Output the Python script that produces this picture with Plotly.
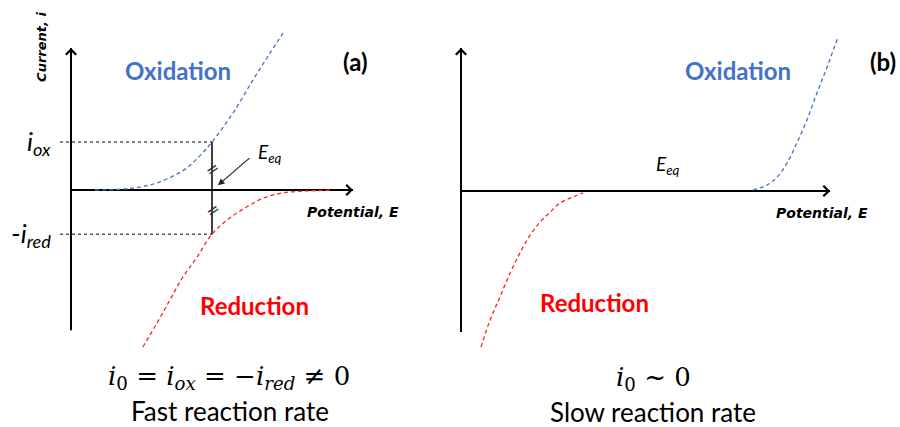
import plotly.graph_objects as go

# ---------------- data (E in arbitrary potential units, i in units of i_ox) ----------------
# Panel (a): fast reaction (large exchange current)
E_ox_a = [0.85, 1.6, 2.2, 2.7, 3.16, 3.65, 4.11, 4.55, 5.0, 5.74, 6.45, 7.0, 7.52]
i_ox_a = [0.0, 0.01, 0.04, 0.09, 0.17, 0.3, 0.46, 0.7, 1.0, 1.6, 2.29, 2.8, 3.27]
E_red_a = [2.55, 3.05, 3.51, 3.97, 4.47, 5.0, 5.64, 6.24, 6.81, 7.52, 8.37, 9.18]
i_red_a = [-3.27, -2.77, -2.29, -1.81, -1.40, -0.92, -0.58, -0.35, -0.17, -0.06, -0.02, -0.005]
E_eq_a = 5.0
i_ox_level = 1.0
i_red_level = -0.92

# Panel (b): slow reaction (exchange current ~ 0)
E_red_b = [0.71, 1.03, 1.38, 1.74, 2.09, 2.45, 2.80, 3.16, 3.51, 3.97, 4.33]
i_red_b = [-3.25, -2.69, -2.21, -1.71, -1.29, -0.92, -0.65, -0.44, -0.25, -0.125, -0.04]
E_ox_b = [10.35, 10.85, 11.21, 11.56, 11.91, 12.27, 12.62, 12.98, 13.37]
i_ox_b = [0.02, 0.125, 0.29, 0.58, 1.0, 1.48, 2.04, 2.58, 3.21]

# axis extents (arrowed axes)
E_axis_end = [10.0, 13.09]
i_axis_top = [2.96, 2.98]
i_axis_bottom = [-2.92, -2.94]
E_guide_start = -0.39

BLUE = "#4472C4"
RED = "#FF2020"
TXT = "Lato"
SMALL = "DejaVu Sans"
MATH = "DejaVu Serif"

fig = go.Figure()

def line(x, y, xa, ya, color="black", width=2, dash="solid", shape="linear"):
    fig.add_trace(go.Scatter(x=x, y=y, xaxis=xa, yaxis=ya, mode="lines",
                             line=dict(color=color, width=width, dash=dash, shape=shape),
                             hoverinfo="skip", showlegend=False))

for k, (xa, ya) in enumerate([("x", "y"), ("x2", "y2")]):
    line([0, E_axis_end[k]], [0, 0], xa, ya)
    line([0, 0], [i_axis_bottom[k], i_axis_top[k]], xa, ya)

# panel (a)
line([E_guide_start, E_eq_a], [i_ox_level, i_ox_level], "x", "y", width=1, dash="3px,3px")
line([E_guide_start, E_eq_a], [i_red_level, i_red_level], "x", "y", width=1, dash="3px,3px")
line([E_eq_a, E_eq_a], [i_red_level, i_ox_level], "x", "y", width=1.5)
line(E_ox_a, i_ox_a, "x", "y", BLUE, 1.3, "4px,3px", "spline")
line(E_red_a, i_red_a, "x", "y", RED, 1.3, "4px,3px", "spline")
# panel (b)
line(E_red_b, i_red_b, "x2", "y2", RED, 1.3, "4px,3px", "spline")
line(E_ox_b, i_ox_b, "x2", "y2", BLUE, 1.3, "4px,3px", "spline")

ann = []
def text(x, y, t, xr, yr, size, color="black", family=TXT, angle=0, xanchor="center", yanchor="middle"):
    ann.append(dict(x=x, y=y, xref=xr, yref=yr, text=t, showarrow=False, textangle=angle,
                    xanchor=xanchor, yanchor=yanchor, font=dict(family=family, size=size, color=color)))

# arrowheads on axes
for k, (xr, yr) in enumerate([("x", "y"), ("x2", "y2")]):
    ann.append(dict(x=E_axis_end[k], y=0, xref=xr, yref=yr, ax=-12, ay=0, text="", showarrow=True,
                    arrowhead=4, arrowwidth=2, arrowsize=1, arrowcolor="black", standoff=0))
    ann.append(dict(x=0, y=i_axis_top[k], xref=xr, yref=yr, ax=0, ay=12, text="", showarrow=True,
                    arrowhead=4, arrowwidth=2, arrowsize=1, arrowcolor="black", standoff=0))

# E_eq arrow (a)
ann.append(dict(x=5.21, y=0.10, xref="x", yref="y", ax=6.38, ay=0.69, axref="x", ayref="y", text="",
                showarrow=True, arrowhead=2, arrowwidth=1.2, arrowsize=1.1, arrowcolor="#222", standoff=0))
# break marks on the E_eq line
for yy in (0.42, -0.42):
    text(E_eq_a, yy, "=", "x", "y", 16, color="#333", family="DejaVu Sans", angle=-35)

# panel (a) labels
text(3.79, 2.5, "<b>Oxidation</b>", "x", "y", 24, BLUE)
text(6.52, -2.40, "<b>Reduction</b>", "x", "y", 24, "#FF0000")
text(10.1, 2.67, "<b>(a)</b>", "x", "y", 24)
text(-1.03, 2.98, "<b><i>Current, i</i></b>", "x", "y", 13, family=SMALL, angle=-90)
text(10.0, -0.46, "<b><i>Potential, E</i></b>", "x", "y", 14, family=SMALL)
text(-0.65, 1.0, "<i>i</i><sub><i>ox</i></sub>", "x", "y", 26, xanchor="right")
text(-0.65, -0.92, "-<i>i</i><sub><i>red</i></sub>", "x", "y", 26, xanchor="right")
text(7.06, 0.77, "<i>E</i><sub><i>eq</i></sub>", "x", "y", 19)
text(5.6, -3.9, "<i>i</i><sub>0</sub> = <i>i</i><sub><i>ox</i></sub> = \u2212<i>i</i><sub><i>red</i></sub> \u2260 0",
     "x", "y", 26, family=MATH)
text(5.64, -4.6, "Fast reaction rate", "x", "y", 26)

# panel (b) labels
text(9.82, 2.52, "<b>Oxidation</b>", "x2", "y2", 24, BLUE)
text(4.75, -2.33, "<b>Reduction</b>", "x2", "y2", 24, "#FF0000")
text(14.96, 2.69, "<b>(b)</b>", "x2", "y2", 24)
text(-0.85, 3.0, "<b><i>Current, i</i></b>", "x2", "y2", 13, family=SMALL, angle=-90)
text(12.8, -0.46, "<b><i>Potential, E</i></b>", "x2", "y2", 14, family=SMALL)
text(7.34, 0.54, "<i>E</i><sub><i>eq</i></sub>", "x2", "y2", 19)
text(6.81, -3.9, "<i>i</i><sub>0</sub> ~ 0", "x2", "y2", 26, family=MATH)
text(6.81, -4.6, "Slow reaction rate", "x2", "y2", 26)

ax_common = dict(visible=False, showgrid=False, zeroline=False, fixedrange=True)
fig.update_layout(
    width=900, height=427, margin=dict(l=0, r=0, t=0, b=0),
    paper_bgcolor="white", plot_bgcolor="rgba(0,0,0,0)",
    xaxis=dict(domain=[0, 440 / 900], range=[-71 / 28.2, 369 / 28.2], **ax_common),
    yaxis=dict(domain=[0, 1], range=[-237 / 48, 190 / 48], **ax_common),
    xaxis2=dict(domain=[440 / 900, 1], range=[-21 / 28.2, 439 / 28.2], anchor="y2", **ax_common),
    yaxis2=dict(domain=[0, 1], range=[-236 / 48, 191 / 48], anchor="x2", **ax_common),
    annotations=ann,
    showlegend=False,
)
fig.write_html("out.html", config={"displayModeBar": False},
               post_script="document.body.style.margin='0';document.body.style.overflow='hidden';")
